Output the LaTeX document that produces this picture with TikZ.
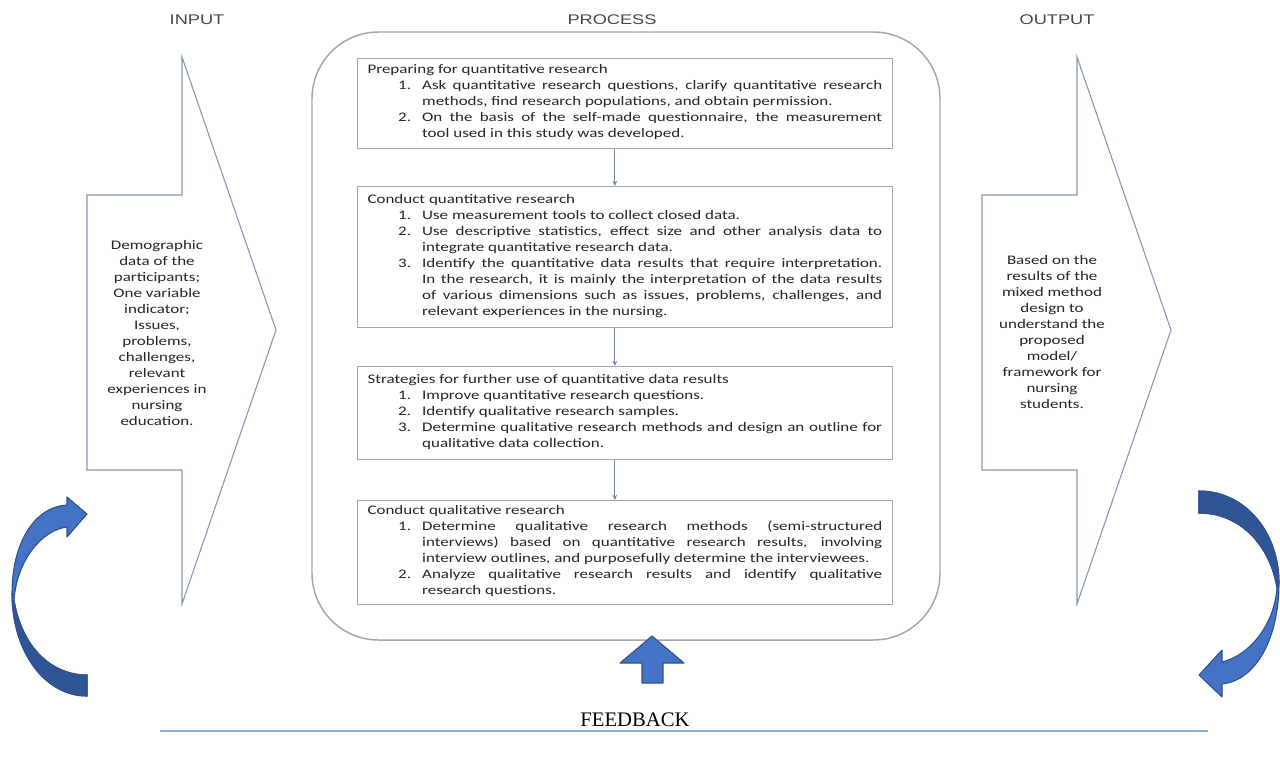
\documentclass[tikz,border=0pt]{standalone}
\usepackage{fontspec}
\usetikzlibrary{arrows.meta}
\newfontfamily\bx[FakeStretch=1.3]{Carlito}
\newfontfamily\ttl[FakeStretch=1.3]{Liberation Sans}
\newfontfamily\fbf{Liberation Serif}
\definecolor{txt}{HTML}{262626}
\definecolor{boxline}{HTML}{A6A6A6}
\definecolor{arrline}{HTML}{8497B0}
\definecolor{bfill}{HTML}{4472C4}
\definecolor{bdark}{HTML}{2F5597}
\definecolor{bedge}{HTML}{2F528F}
\definecolor{fbline}{HTML}{8FAADC}
\newcommand\litem[2]{\par\noindent\hbox to 41pt{\hspace{23pt}#1\hfil}\parbox[t]{345pt}{#2\strut}\par\prevdepth=\dp\strutbox}
\newcommand\lhead[1]{\noindent #1}
\tikzset{
  pbox/.style={draw=boxline, line width=0.8pt, fill=white, anchor=north west,
    text width=386pt, inner xsep=7.5pt, inner ysep=3pt, align=justify,
    font=\bx\fontsize{9.8pt}{12pt}\selectfont, text=txt},
  sidetext/.style={align=center, font=\bx\fontsize{9.8pt}{12pt}\selectfont, text=txt},
  title/.style={font=\ttl\fontsize{10.5pt}{12pt}\selectfont, text=txt!85},
  bigarrow/.style={draw=arrline, line width=0.8pt, fill=white},
  conn/.style={draw=arrline!90!black, line width=0.6pt, -{Stealth[length=4pt,width=3.5pt]}},
  blockarrow/.style={fill=bfill, draw=bedge, line width=0.8pt, line join=round},
}
\begin{document}
\begin{tikzpicture}[x=0.75pt,y=-0.75pt]
\useasboundingbox (0,0) rectangle (1280,769);

% titles
\node[title] (tin) at (197,20) {INPUT};
\node[title] (tproc) at (612,20) {PROCESS};
\node[title] (tout) at (1057,20) {OUTPUT};

% input arrow
\path[bigarrow] (87,195) -- (182,195) -- (182,57) -- (276,330) -- (182,604) -- (182,470) -- (87,470) -- cycle;
\node[sidetext] (intext) at (157,333) {Demographic\\data of the\\participants;\\One variable\\indicator;\\Issues,\\problems,\\challenges,\\relevant\\experiences in\\nursing\\education.};

% output arrow
\path[bigarrow] (982,195) -- (1077,195) -- (1077,57) -- (1171,330) -- (1077,604) -- (1077,470) -- (982,470) -- cycle;
\node[sidetext] (outtext) at (1052,332) {Based on the\\results of the\\mixed method\\design to\\understand the\\proposed\\model/\\framework for\\nursing\\students.};

% process container
\node[draw=boxline, line width=1.1pt, rounded corners=50pt, minimum width=471pt, minimum height=456pt] (proc) at (626,336) {};

% boxes
\node[pbox, minimum height=67.5pt] (b1) at (357,58) {%
\lhead{Preparing for quantitative research}
\litem{1.}{Ask quantitative research questions, clarify quantitative research\linebreak methods, find research populations, and obtain permission.}
\litem{2.}{On the basis of the self-made questionnaire, the measurement\linebreak tool used in this study was developed.}};

\node[pbox, minimum height=105.75pt] (b2) at (357,186) {%
\lhead{Conduct quantitative research}
\litem{1.}{Use measurement tools to collect closed data.}
\litem{2.}{Use descriptive statistics, effect size and other analysis data to\linebreak integrate quantitative research data.}
\litem{3.}{Identify the quantitative data results that require interpretation.\linebreak In the research, it is mainly the interpretation of the data results\linebreak of various dimensions such as issues, problems, challenges, and\linebreak relevant experiences in the nursing.}};

\node[pbox, minimum height=69.75pt] (b3) at (357,366) {%
\lhead{Strategies for further use of quantitative data results}
\litem{1.}{Improve quantitative research questions.}
\litem{2.}{Identify qualitative research samples.}
\litem{3.}{Determine qualitative research methods and design an outline for\linebreak qualitative data collection.}};

\node[pbox, minimum height=78pt] (b4) at (357,500) {%
\lhead{Conduct qualitative research}
\litem{1.}{Determine qualitative research methods (semi-structured\linebreak interviews) based on quantitative research results, involving\linebreak interview outlines, and purposefully determine the interviewees.}
\litem{2.}{Analyze qualitative research results and identify qualitative\linebreak research questions.}};

% connectors
\draw[conn] ([xshift=-7.5pt]b1.south) -- ([xshift=-7.5pt]b2.north);
\draw[conn] ([xshift=-7.5pt]b2.south) -- ([xshift=-7.5pt]b3.north);
\draw[conn] ([xshift=-7.5pt]b3.south) -- ([xshift=-7.5pt]b4.north);

% feedback up arrow
\path[blockarrow] (652,636) -- (684,663) -- (663,663) -- (663,683) -- (642,683) -- (642,663) -- (620,663) -- cycle;

% left curved arrow
\path[blockarrow] (87,696) .. controls (45,696) and (12,652) .. (12,593) .. controls (12,545) and (33,507) .. (67,505) -- (67,497) -- (87,514) -- (67,537) -- (67,527) .. controls (42,530) and (17,560) .. (14,600) .. controls (22,648) and (52,675) .. (87,675) -- cycle;
\path[fill=bdark] (12,593) .. controls (12,652) and (45,696) .. (87,696) -- (87,675) .. controls (52,675) and (22,648) .. (14,600) -- cycle;
\draw[bedge, line width=0.8pt] (12,593) .. controls (12,652) and (45,696) .. (87,696) -- (87,675) .. controls (52,675) and (22,648) .. (14,600);

% right curved arrow
\path[blockarrow] (1199,491) .. controls (1245,491) and (1279,532) .. (1279,583) .. controls (1279,635) and (1258,680) .. (1222,684) -- (1222,697) -- (1199,675) -- (1222,650) -- (1222,662) .. controls (1250,655) and (1274,625) .. (1277,588) .. controls (1270,545) and (1240,513) .. (1199,513) -- cycle;
\path[fill=bdark] (1199,491) .. controls (1245,491) and (1279,532) .. (1279,583) -- (1277,588) .. controls (1270,545) and (1240,513) .. (1199,513) -- cycle;
\draw[bedge, line width=0.8pt] (1279,583) -- (1277,588) .. controls (1270,545) and (1240,513) .. (1199,513) -- (1199,491) .. controls (1245,491) and (1279,532) .. (1279,583);

% feedback
\node[font=\fbf\fontsize{15.5pt}{18pt}\selectfont, text=black] (fb) at (635,720) {FEEDBACK};
\coordinate (fl) at (160,731);
\coordinate (fr) at (1208,731);
\draw[fbline, line width=1.5pt] (fl) -- (fr);
\end{tikzpicture}
\end{document}
